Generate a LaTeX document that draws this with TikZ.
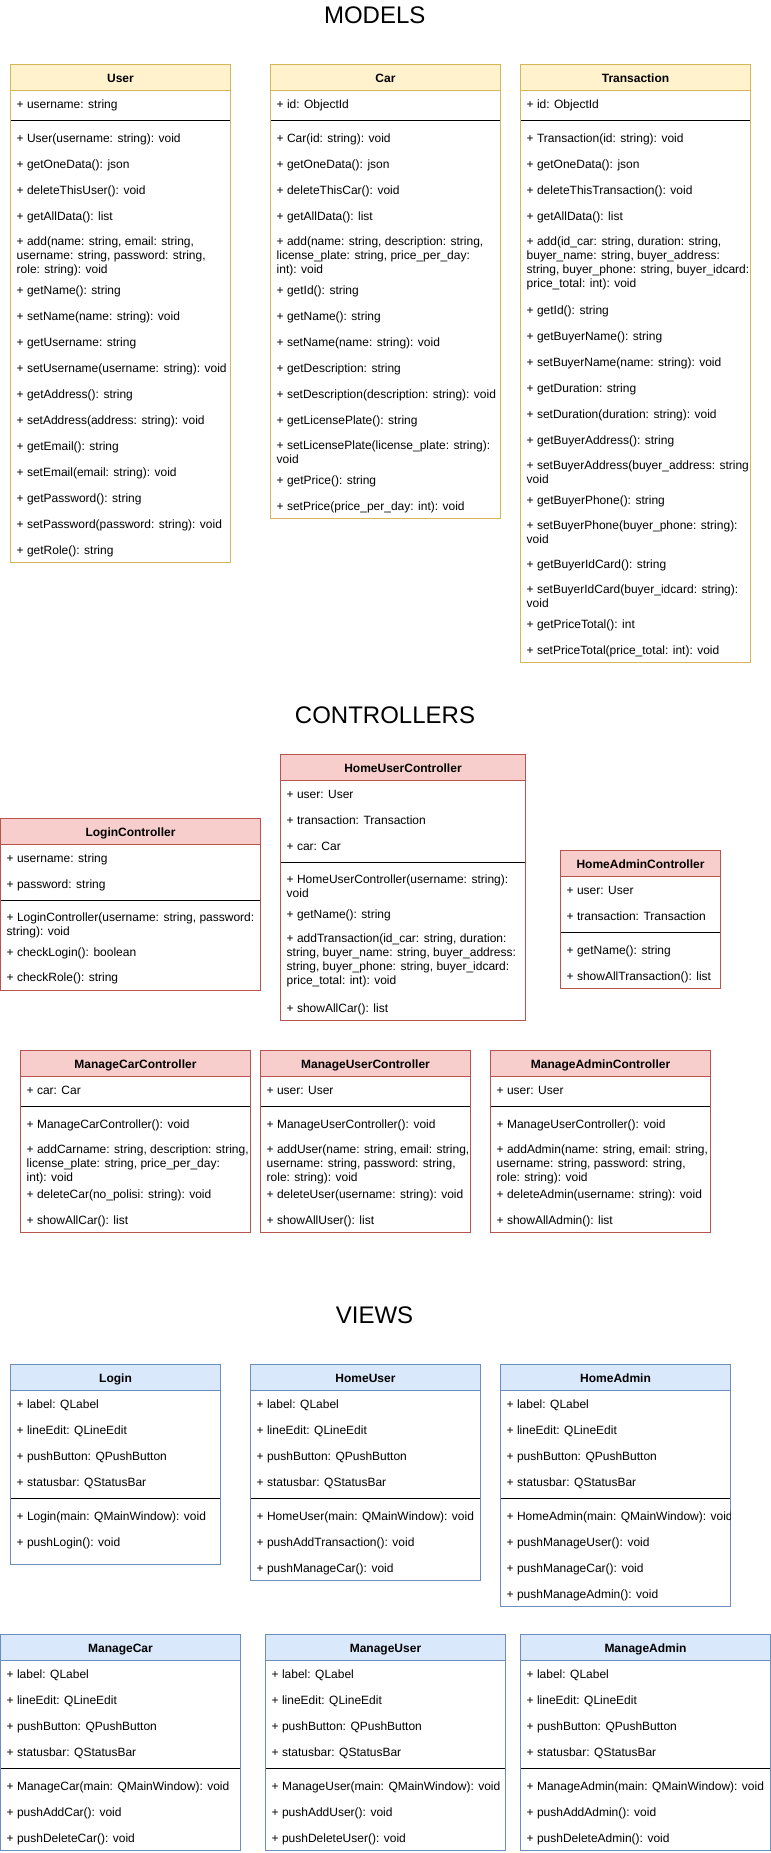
\documentclass[tikz,border=0pt]{standalone}
\usepackage{fontspec}
\setmainfont{Liberation Sans}
\definecolor{modelfill}{HTML}{FFF2CC}
\definecolor{modelline}{HTML}{D6B656}
\definecolor{ctrlfill}{HTML}{F8CECC}
\definecolor{ctrlline}{HTML}{B85450}
\definecolor{viewfill}{HTML}{DAE8FC}
\definecolor{viewline}{HTML}{6C8EBF}
\newcommand{\memberfont}{\fontsize{12}{14}\selectfont}
\newcommand{\bigtitlefont}{\fontsize{24}{28}\selectfont}
\begin{document}
\begin{tikzpicture}[x=1pt, y=-1pt,
        classbox/.style={draw=#1line, fill=white, line width=1pt},
        classtop/.style={draw=#1line, fill=#1fill, line width=1pt},
        divider/.style={draw=black, line width=1pt},
        member/.style={anchor=north west, yshift=9.8pt, inner sep=0pt, font=\memberfont, align=left, execute at begin node=\strut},
        cname/.style={anchor=base, inner sep=0pt, font=\memberfont\bfseries},
        sectiontitle/.style={anchor=base, inner sep=0pt, font=\bigtitlefont}]
    \useasboundingbox[fill=white] (0,0) rectangle (771,1853);

    \node[sectiontitle] (models) at (374.7,23.5) {MODELS};
    \node[sectiontitle] (controllers) at (385,723.5) {CONTROLLERS};
    \node[sectiontitle] (views) at (374.5,1323.5) {VIEWS};

    \draw[classbox=model] (10.5,64.5) rectangle (230.5,562.5);
    \draw[classtop=model] (10.5,64.5) rectangle (230.5,90.5);
    \draw[divider] (11,120.5) -- (230,120.5);
    \node[cname] (user) at (120.5,82) {User};
    \node[member] (u0) at (16.5,108) {+ username: string};
    \node[member] (u1) at (16.5,142) {+ User(username: string): void};
    \node[member] (u2) at (16.5,168) {+ getOneData(): json};
    \node[member] (u3) at (16.5,194) {+ deleteThisUser(): void};
    \node[member] (u4) at (16.5,220) {+ getAllData(): list};
    \node[member] (u5) at (16.5,246) {+ add(name: string, email: string,\\username: string, password: string,\\role: string): void};
    \node[member] (u6) at (16.5,294) {+ getName(): string};
    \node[member] (u7) at (16.5,320) {+ setName(name: string): void};
    \node[member] (u8) at (16.5,346) {+ getUsername: string};
    \node[member] (u9) at (16.5,372) {+ setUsername(username: string): void};
    \node[member] (u10) at (16.5,398) {+ getAddress(): string};
    \node[member] (u11) at (16.5,424) {+ setAddress(address: string): void};
    \node[member] (u12) at (16.5,450) {+ getEmail(): string};
    \node[member] (u13) at (16.5,476) {+ setEmail(email: string): void};
    \node[member] (u14) at (16.5,502) {+ getPassword(): string};
    \node[member] (u15) at (16.5,528) {+ setPassword(password: string): void};
    \node[member] (u16) at (16.5,554) {+ getRole(): string};

    \draw[classbox=model] (270.5,64.5) rectangle (500.5,518.5);
    \draw[classtop=model] (270.5,64.5) rectangle (500.5,90.5);
    \draw[divider] (271,120.5) -- (500,120.5);
    \node[cname] (car) at (385.5,82) {Car};
    \node[member] (c0) at (276.5,108) {+ id: ObjectId};
    \node[member] (c1) at (276.5,142) {+ Car(id: string): void};
    \node[member] (c2) at (276.5,168) {+ getOneData(): json};
    \node[member] (c3) at (276.5,194) {+ deleteThisCar(): void};
    \node[member] (c4) at (276.5,220) {+ getAllData(): list};
    \node[member] (c5) at (276.5,246) {+ add(name: string, description: string,\\license\_plate: string, price\_per\_day:\\int): void};
    \node[member] (c6) at (276.5,294) {+ getId(): string};
    \node[member] (c7) at (276.5,320) {+ getName(): string};
    \node[member] (c8) at (276.5,346) {+ setName(name: string): void};
    \node[member] (c9) at (276.5,372) {+ getDescription: string};
    \node[member] (c10) at (276.5,398) {+ setDescription(description: string): void};
    \node[member] (c11) at (276.5,424) {+ getLicensePlate(): string};
    \node[member] (c12) at (276.5,450) {+ setLicensePlate(license\_plate: string):\\void};
    \node[member] (c13) at (276.5,484.3) {+ getPrice(): string};
    \node[member] (c14) at (276.5,510.3) {+ setPrice(price\_per\_day: int): void};

    \draw[classbox=model] (520.5,64.5) rectangle (750.5,662.5);
    \draw[classtop=model] (520.5,64.5) rectangle (750.5,90.5);
    \draw[divider] (521,120.5) -- (750,120.5);
    \node[cname] (trans) at (635.5,82) {Transaction};
    \node[member] (t0) at (526.5,108) {+ id: ObjectId};
    \node[member] (t1) at (526.5,142) {+ Transaction(id: string): void};
    \node[member] (t2) at (526.5,168) {+ getOneData(): json};
    \node[member] (t3) at (526.5,194) {+ deleteThisTransaction(): void};
    \node[member] (t4) at (526.5,220) {+ getAllData(): list};
    \node[member] (t5) at (526.5,246) {+ add(id\_car: string, duration: string,\\buyer\_name: string, buyer\_address:\\string, buyer\_phone: string, buyer\_idcard:\\price\_total: int): void};
    \node[member] (t6) at (526.5,314.3) {+ getId(): string};
    \node[member] (t7) at (526.5,340) {+ getBuyerName(): string};
    \node[member] (t8) at (526.5,366) {+ setBuyerName(name: string): void};
    \node[member] (t9) at (526.5,392) {+ getDuration: string};
    \node[member] (t10) at (526.5,418) {+ setDuration(duration: string): void};
    \node[member] (t11) at (526.5,444) {+ getBuyerAddress(): string};
    \node[member] (t12) at (526.5,470) {+ setBuyerAddress(buyer\_address: string\\void};
    \node[member] (t13) at (526.5,504.3) {+ getBuyerPhone(): string};
    \node[member] (t14) at (526.5,530) {+ setBuyerPhone(buyer\_phone: string):\\void};
    \node[member] (t15) at (526.5,568) {+ getBuyerIdCard(): string};
    \node[member] (t16) at (526.5,594) {+ setBuyerIdCard(buyer\_idcard: string):\\void};
    \node[member] (t17) at (526.5,628) {+ getPriceTotal(): int};
    \node[member] (t18) at (526.5,654) {+ setPriceTotal(price\_total: int): void};

    \draw[classbox=ctrl] (280.5,754.5) rectangle (525.5,1020.5);
    \draw[classtop=ctrl] (280.5,754.5) rectangle (525.5,780.5);
    \draw[divider] (281,862.5) -- (525,862.5);
    \node[cname] (homeuserctrl) at (403,772) {HomeUserController};
    \node[member] (huc0) at (286.5,798) {+ user: User};
    \node[member] (huc1) at (286.5,824) {+ transaction: Transaction};
    \node[member] (huc2) at (286.5,850) {+ car: Car};
    \node[member] (huc3) at (286.5,884) {+ HomeUserController(username: string):\\void};
    \node[member] (huc4) at (286.5,918.3) {+ getName(): string};
    \node[member] (huc5) at (286.5,943.3) {+ addTransaction(id\_car: string, duration:\\string, buyer\_name: string, buyer\_address:\\string, buyer\_phone: string, buyer\_idcard:\\price\_total: int): void};
    \node[member] (huc6) at (286.5,1012) {+ showAllCar(): list};

    \draw[classbox=ctrl] (0.5,818.5) rectangle (260.5,990.5);
    \draw[classtop=ctrl] (0.5,818.5) rectangle (260.5,844.5);
    \draw[divider] (1,900.5) -- (260,900.5);
    \node[cname] (loginctrl) at (130.5,836) {LoginController};
    \node[member] (lc0) at (6.5,862) {+ username: string};
    \node[member] (lc1) at (6.5,888) {+ password: string};
    \node[member] (lc2) at (6.5,922.5) {+ LoginController(username: string, password:\\string): void};
    \node[member] (lc3) at (6.5,956) {+ checkLogin(): boolean};
    \node[member] (lc4) at (6.5,981.5) {+ checkRole(): string};

    \draw[classbox=ctrl] (560.5,850.5) rectangle (720.5,988.5);
    \draw[classtop=ctrl] (560.5,850.5) rectangle (720.5,876.5);
    \draw[divider] (561,932.5) -- (720,932.5);
    \node[cname] (homeadminctrl) at (640.5,868) {HomeAdminController};
    \node[member] (hac0) at (566.5,894) {+ user: User};
    \node[member] (hac1) at (566.5,920) {+ transaction: Transaction};
    \node[member] (hac2) at (566.5,954) {+ getName(): string};
    \node[member] (hac3) at (566.5,980) {+ showAllTransaction(): list};

    \draw[classbox=ctrl] (20.5,1050.5) rectangle (250.5,1232.5);
    \draw[classtop=ctrl] (20.5,1050.5) rectangle (250.5,1076.5);
    \draw[divider] (21,1106.5) -- (250,1106.5);
    \node[cname] (managecarctrl) at (135.5,1068) {ManageCarController};
    \node[member] (mcc0) at (26.5,1094) {+ car: Car};
    \node[member] (mcc1) at (26.5,1128) {+ ManageCarController(): void};
    \node[member] (mcc2) at (26.5,1154) {+ addCarname: string, description: string,\\license\_plate: string, price\_per\_day:\\int): void};
    \node[member] (mcc3) at (26.5,1198) {+ deleteCar(no\_polisi: string): void};
    \node[member] (mcc4) at (26.5,1224) {+ showAllCar(): list};

    \draw[classbox=ctrl] (260.5,1050.5) rectangle (470.5,1232.5);
    \draw[classtop=ctrl] (260.5,1050.5) rectangle (470.5,1076.5);
    \draw[divider] (261,1106.5) -- (470,1106.5);
    \node[cname] (manageuserctrl) at (365.5,1068) {ManageUserController};
    \node[member] (muc0) at (266.5,1094) {+ user: User};
    \node[member] (muc1) at (266.5,1128) {+ ManageUserController(): void};
    \node[member] (muc2) at (266.5,1154) {+ addUser(name: string, email: string,\\username: string, password: string,\\role: string): void};
    \node[member] (muc3) at (266.5,1198) {+ deleteUser(username: string): void};
    \node[member] (muc4) at (266.5,1224) {+ showAllUser(): list};

    \draw[classbox=ctrl] (490.5,1050.5) rectangle (710.5,1232.5);
    \draw[classtop=ctrl] (490.5,1050.5) rectangle (710.5,1076.5);
    \draw[divider] (491,1106.5) -- (710,1106.5);
    \node[cname] (manageadminctrl) at (600.5,1068) {ManageAdminController};
    \node[member] (mac0) at (496.5,1094) {+ user: User};
    \node[member] (mac1) at (496.5,1128) {+ ManageUserController(): void};
    \node[member] (mac2) at (496.5,1154) {+ addAdmin(name: string, email: string,\\username: string, password: string,\\role: string): void};
    \node[member] (mac3) at (496.5,1198) {+ deleteAdmin(username: string): void};
    \node[member] (mac4) at (496.5,1224) {+ showAllAdmin(): list};

    \draw[classbox=view] (10.5,1364.5) rectangle (220.5,1564.5);
    \draw[classtop=view] (10.5,1364.5) rectangle (220.5,1390.5);
    \draw[divider] (11,1498.5) -- (220,1498.5);
    \node[cname] (login) at (115.5,1382) {Login};
    \node[member] (l0) at (16.5,1408) {+ label: QLabel};
    \node[member] (l1) at (16.5,1434) {+ lineEdit: QLineEdit};
    \node[member] (l2) at (16.5,1460) {+ pushButton: QPushButton};
    \node[member] (l3) at (16.5,1486) {+ statusbar: QStatusBar};
    \node[member] (l4) at (16.5,1520) {+ Login(main: QMainWindow): void};
    \node[member] (l5) at (16.5,1546) {+ pushLogin(): void};

    \draw[classbox=view] (250.5,1364.5) rectangle (480.5,1580.5);
    \draw[classtop=view] (250.5,1364.5) rectangle (480.5,1390.5);
    \draw[divider] (251,1498.5) -- (480,1498.5);
    \node[cname] (homeuser) at (365.5,1382) {HomeUser};
    \node[member] (hu0) at (256.5,1408) {+ label: QLabel};
    \node[member] (hu1) at (256.5,1434) {+ lineEdit: QLineEdit};
    \node[member] (hu2) at (256.5,1460) {+ pushButton: QPushButton};
    \node[member] (hu3) at (256.5,1486) {+ statusbar: QStatusBar};
    \node[member] (hu4) at (256.5,1520) {+ HomeUser(main: QMainWindow): void};
    \node[member] (hu5) at (256.5,1546) {+ pushAddTransaction(): void};
    \node[member] (hu6) at (256.5,1572) {+ pushManageCar(): void};

    \draw[classbox=view] (500.5,1364.5) rectangle (730.5,1606.5);
    \draw[classtop=view] (500.5,1364.5) rectangle (730.5,1390.5);
    \draw[divider] (501,1498.5) -- (730,1498.5);
    \node[cname] (homeadmin) at (615.5,1382) {HomeAdmin};
    \node[member] (ha0) at (506.5,1408) {+ label: QLabel};
    \node[member] (ha1) at (506.5,1434) {+ lineEdit: QLineEdit};
    \node[member] (ha2) at (506.5,1460) {+ pushButton: QPushButton};
    \node[member] (ha3) at (506.5,1486) {+ statusbar: QStatusBar};
    \begin{scope}
        \clip (500.5,1500) rectangle (730,1530);
        \node[member] (ha4) at (506.5,1520) {+ HomeAdmin(main: QMainWindow): void};
    \end{scope}
    \node[member] (ha5) at (506.5,1546) {+ pushManageUser(): void};
    \node[member] (ha6) at (506.5,1572) {+ pushManageCar(): void};
    \node[member] (ha7) at (506.5,1598) {+ pushManageAdmin(): void};

    \draw[classbox=view] (0.5,1634.5) rectangle (240.5,1850.5);
    \draw[classtop=view] (0.5,1634.5) rectangle (240.5,1660.5);
    \draw[divider] (1,1768.5) -- (240,1768.5);
    \node[cname] (managecar) at (120.5,1652) {ManageCar};
    \node[member] (mc0) at (6.5,1678) {+ label: QLabel};
    \node[member] (mc1) at (6.5,1704) {+ lineEdit: QLineEdit};
    \node[member] (mc2) at (6.5,1730) {+ pushButton: QPushButton};
    \node[member] (mc3) at (6.5,1756) {+ statusbar: QStatusBar};
    \node[member] (mc4) at (6.5,1790) {+ ManageCar(main: QMainWindow): void};
    \node[member] (mc5) at (6.5,1816) {+ pushAddCar(): void};
    \node[member] (mc6) at (6.5,1842) {+ pushDeleteCar(): void};

    \draw[classbox=view] (265.5,1634.5) rectangle (505.5,1850.5);
    \draw[classtop=view] (265.5,1634.5) rectangle (505.5,1660.5);
    \draw[divider] (266,1768.5) -- (505,1768.5);
    \node[cname] (manageuser) at (385.5,1652) {ManageUser};
    \node[member] (mu0) at (271.5,1678) {+ label: QLabel};
    \node[member] (mu1) at (271.5,1704) {+ lineEdit: QLineEdit};
    \node[member] (mu2) at (271.5,1730) {+ pushButton: QPushButton};
    \node[member] (mu3) at (271.5,1756) {+ statusbar: QStatusBar};
    \node[member] (mu4) at (271.5,1790) {+ ManageUser(main: QMainWindow): void};
    \node[member] (mu5) at (271.5,1816) {+ pushAddUser(): void};
    \node[member] (mu6) at (271.5,1842) {+ pushDeleteUser(): void};

    \draw[classbox=view] (520.5,1634.5) rectangle (770.5,1850.5);
    \draw[classtop=view] (520.5,1634.5) rectangle (770.5,1660.5);
    \draw[divider] (521,1768.5) -- (770,1768.5);
    \node[cname] (manageadmin) at (645.5,1652) {ManageAdmin};
    \node[member] (ma0) at (526.5,1678) {+ label: QLabel};
    \node[member] (ma1) at (526.5,1704) {+ lineEdit: QLineEdit};
    \node[member] (ma2) at (526.5,1730) {+ pushButton: QPushButton};
    \node[member] (ma3) at (526.5,1756) {+ statusbar: QStatusBar};
    \node[member] (ma4) at (526.5,1790) {+ ManageAdmin(main: QMainWindow): void};
    \node[member] (ma5) at (526.5,1816) {+ pushAddAdmin(): void};
    \node[member] (ma6) at (526.5,1842) {+ pushDeleteAdmin(): void};
\end{tikzpicture}
\end{document}
